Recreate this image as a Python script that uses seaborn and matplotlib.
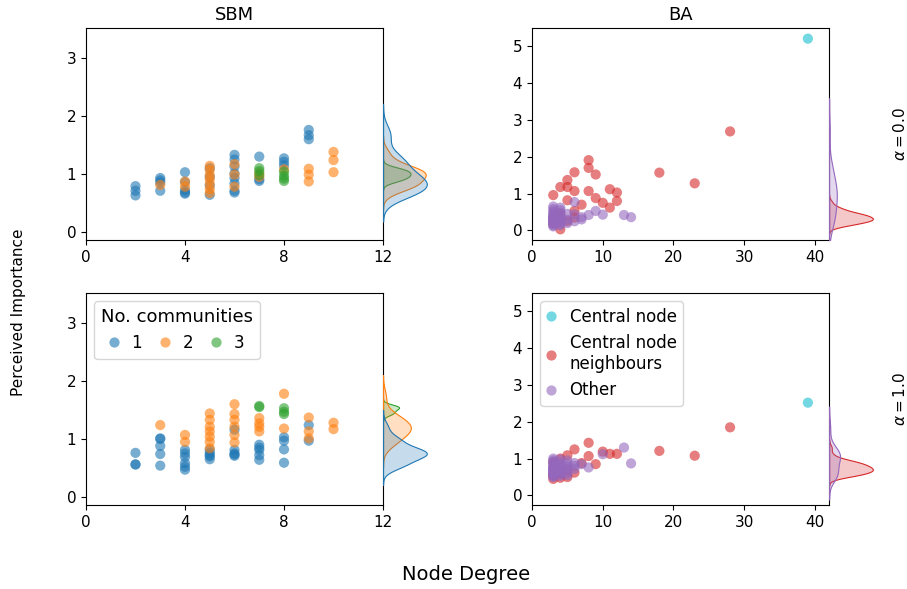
import matplotlib
matplotlib.use("Agg")
import matplotlib.pyplot as plt
import pandas as pd
import seaborn as sns

# ---------------- SBM networks ----------------
# alpha = 0.0
sbm0_c1_deg = [2, 2, 2, 3, 3, 3, 3, 4, 4, 4, 4, 4, 5, 5, 5, 5,
               6, 6, 6, 6, 6, 6, 6, 6, 7, 7, 7, 8, 8, 8, 9, 9, 9]
sbm0_c1_val = [0.79, 0.71, 0.63, 0.93, 0.89, 0.85, 0.71, 1.03, 0.86, 0.72, 0.66, 0.68,
               1.10, 0.95, 0.80, 0.64, 1.33, 1.25, 1.13, 1.01, 0.93, 0.84, 0.71, 0.68,
               1.30, 0.91, 0.88, 1.27, 1.21, 1.15, 1.76, 1.67, 1.60]
sbm0_c2_deg = [3, 4, 4, 5, 5, 5, 5, 5, 5, 5, 6, 6, 6, 7, 7, 8, 9, 9, 9, 10, 10, 10]
sbm0_c2_val = [0.81, 0.87, 0.78, 1.14, 1.07, 0.98, 0.91, 0.83, 0.74, 0.67, 1.17, 0.99,
               0.78, 1.01, 0.95, 1.08, 1.09, 0.99, 0.87, 1.38, 1.24, 1.03]
sbm0_c3_deg = [7, 7, 7, 8, 8, 8, 8]
sbm0_c3_val = [1.10, 1.05, 0.98, 1.04, 0.97, 0.92, 0.88]

# alpha = 1.0
sbm1_c1_deg = [2, 2, 2, 3, 3, 3, 3, 3, 4, 4, 4, 4, 4, 4, 5, 5, 5, 5, 5,
               6, 6, 6, 6, 6, 7, 7, 7, 7, 7, 8, 8, 8, 8, 9, 9]
sbm1_c1_val = [0.76, 0.56, 0.56, 1.01, 1.00, 0.88, 0.74, 0.54, 0.81, 0.69, 0.58, 0.52,
               0.47, 0.75, 0.81, 0.76, 0.72, 0.65, 0.70, 1.16, 0.81, 0.75, 0.71, 0.73,
               0.90, 0.85, 0.81, 0.72, 0.64, 1.03, 0.97, 0.82, 0.59, 1.24, 0.97]
sbm1_c2_deg = [3, 4, 4, 5, 5, 5, 5, 5, 5, 5, 6, 6, 6, 6, 6, 6,
               7, 7, 7, 7, 8, 8, 9, 9, 9, 10, 10]
sbm1_c2_val = [1.24, 1.07, 0.95, 1.44, 1.33, 1.21, 1.13, 1.04, 0.95, 0.84, 1.60, 1.43,
               1.33, 1.21, 1.07, 0.94, 1.36, 1.27, 1.21, 1.13, 1.78, 1.18, 1.37, 1.13,
               1.01, 1.28, 1.17]
sbm1_c3_deg = [7, 7, 8, 8, 8]
sbm1_c3_val = [1.57, 1.55, 1.53, 1.47, 1.43]

# ---------------- BA networks ----------------
# alpha = 0.0
ba0_central_deg = [39]
ba0_central_val = [5.21]
ba0_neigh_deg = [28, 18, 23, 8, 8, 9, 6, 5, 5, 4, 3, 6, 8, 9, 10, 11, 12, 12, 11,
                 5, 7, 6, 4, 3, 4, 5, 3, 4, 6]
ba0_neigh_val = [2.69, 1.57, 1.28, 1.91, 1.70, 1.52, 1.58, 1.37, 1.18, 1.18, 0.96,
                 1.07, 1.07, 0.88, 0.75, 1.12, 1.03, 0.80, 0.62, 0.82, 0.70, 0.53,
                 0.03, 0.35, 0.45, 0.25, 0.20, 0.30, 0.35]
ba0_other_deg = [14, 13, 10, 9, 8, 7, 6, 6, 7, 5, 5, 5, 6,
                 3, 3, 3, 3, 3, 3, 3, 3, 3, 3, 3, 3, 3, 3, 3, 3,
                 4, 4, 4, 4, 4, 4, 4, 4, 4, 4, 4, 4]
ba0_other_val = [0.36, 0.42, 0.43, 0.53, 0.42, 0.36, 0.77, 0.44, 0.30, 0.29, 0.45, 0.20, 0.25,
                 0.65, 0.58, 0.52, 0.47, 0.42, 0.38, 0.34, 0.30, 0.27, 0.24, 0.20, 0.17,
                 0.14, 0.11, 0.35, 0.28,
                 0.62, 0.55, 0.48, 0.40, 0.36, 0.31, 0.26, 0.22, 0.18, 0.14, 0.30, 0.28]

# alpha = 1.0
ba1_central_deg = [39]
ba1_central_val = [2.52]
ba1_neigh_deg = [28, 18, 23, 8, 10, 11, 12, 8, 6, 5, 9, 7, 4, 3,
                 3, 4, 5, 3, 4, 6, 5, 3]
ba1_neigh_val = [1.85, 1.21, 1.08, 1.43, 1.19, 1.13, 1.13, 1.07, 1.25, 1.09, 0.85, 0.88,
                 1.00, 0.90, 0.45, 0.48, 0.50, 0.55, 0.60, 0.62, 0.70, 0.75]
ba1_other_deg = [13, 14, 10, 7, 6, 8,
                 3, 3, 3, 3, 3, 3, 3, 3, 3, 3, 3, 3, 3, 3, 3, 3,
                 4, 4, 4, 4, 4, 4, 4, 4, 4, 4, 4,
                 5, 5, 5, 5, 5, 5, 6, 6]
ba1_other_val = [1.30, 0.87, 1.12, 0.85, 0.88, 0.76,
                 1.00, 0.95, 0.90, 0.85, 0.80, 0.75, 0.72, 0.68, 0.65, 0.62, 0.58,
                 0.55, 0.52, 0.50, 0.70, 0.60,
                 0.98, 0.90, 0.83, 0.77, 0.72, 0.67, 0.63, 0.58, 0.53, 0.70, 0.65,
                 0.95, 0.85, 0.78, 0.70, 0.62, 0.55, 0.80, 0.72]

SBM_LEVELS = ["1", "2", "3"]
BA_LEVELS = ["Central node", "Central node\nneighbours", "Other"]

SBM_PALETTE = dict(zip(SBM_LEVELS, ["tab:blue", "tab:orange", "tab:green"]))
BA_PALETTE = dict(zip(BA_LEVELS, ["tab:cyan", "tab:red", "tab:purple"]))
# colours of the density curves on the BA margins
BA_KDE_PALETTE = {"Central node\nneighbours": "tab:purple", "Other": "tab:red"}


def frame(levels, degs, vals):
    parts = []
    for lev, d, v in zip(levels, degs, vals):
        parts.append(pd.DataFrame({"degree": d, "importance": v, "group": lev}))
    return pd.concat(parts, ignore_index=True)


sbm0 = frame(SBM_LEVELS, [sbm0_c1_deg, sbm0_c2_deg, sbm0_c3_deg],
             [sbm0_c1_val, sbm0_c2_val, sbm0_c3_val])
sbm1 = frame(SBM_LEVELS, [sbm1_c1_deg, sbm1_c2_deg, sbm1_c3_deg],
             [sbm1_c1_val, sbm1_c2_val, sbm1_c3_val])
ba0 = frame(BA_LEVELS, [ba0_central_deg, ba0_neigh_deg, ba0_other_deg],
            [ba0_central_val, ba0_neigh_val, ba0_other_val])
ba1 = frame(BA_LEVELS, [ba1_central_deg, ba1_neigh_deg, ba1_other_deg],
            [ba1_central_val, ba1_neigh_val, ba1_other_val])

fig = plt.figure(figsize=(9.07, 5.89), dpi=100)

LEFTS = [0.0948, 0.5866]
BOTTOMS = [0.5925, 0.1426]
W, H, MW = 0.3275, 0.36, 0.0507

TICK_FS = 11


def panel(col, row, df, levels, palette, kde_palette, kde_levels, xlim, xticks,
          ylim, yticks, legend):
    ax = fig.add_axes([LEFTS[col], BOTTOMS[row], W, H])
    axm = fig.add_axes([LEFTS[col] + W, BOTTOMS[row], MW, H], sharey=ax)
    sns.scatterplot(data=df, x="degree", y="importance", hue="group",
                    hue_order=levels, palette=palette, s=54, alpha=0.6,
                    linewidth=0, ax=ax, legend=legend)
    sns.kdeplot(data=df[df["group"].isin(kde_levels)], y="importance",
                hue="group", hue_order=kde_levels, palette=kde_palette,
                fill=True, linewidth=0.8, alpha=0.25, legend=False, ax=axm)
    ax.set_xlim(*xlim)
    ax.set_xticks(xticks)
    ax.set_ylim(*ylim)
    ax.set_yticks(yticks)
    ax.set_xlabel("")
    ax.set_ylabel("")
    ax.tick_params(labelsize=TICK_FS)
    # fit the density axis to the tallest curve
    peak = 0.0
    for coll in axm.collections:
        for path in coll.get_paths():
            if len(path.vertices):
                peak = max(peak, path.vertices[:, 0].max())
    axm.set_xlim(0, peak * 1.05)
    axm.axis("off")
    return ax


ax_tl = panel(0, 0, sbm0, SBM_LEVELS, SBM_PALETTE, SBM_PALETTE, SBM_LEVELS,
              (0, 12), [0, 4, 8, 12], (-0.14, 3.52), [0, 1, 2, 3], False)
ax_bl = panel(0, 1, sbm1, SBM_LEVELS, SBM_PALETTE, SBM_PALETTE, SBM_LEVELS,
              (0, 12), [0, 4, 8, 12], (-0.14, 3.52), [0, 1, 2, 3], True)
ax_tr = panel(1, 0, ba0, BA_LEVELS, BA_PALETTE, BA_KDE_PALETTE, BA_LEVELS[1:],
              (0, 42), [0, 10, 20, 30, 40], (-0.26, 5.5), [0, 1, 2, 3, 4, 5], False)
ax_br = panel(1, 1, ba1, BA_LEVELS, BA_PALETTE, BA_KDE_PALETTE, BA_LEVELS[1:],
              (0, 42), [0, 10, 20, 30, 40], (-0.26, 5.5), [0, 1, 2, 3, 4, 5], True)

ax_tl.set_title("SBM", fontsize=13)
ax_tr.set_title("BA", fontsize=13)

sns.move_legend(ax_bl, "upper left", ncol=3, title="No. communities",
                fontsize=12, title_fontsize=13, handlelength=0.5,
                handletextpad=0.8, columnspacing=1.15, borderaxespad=0.5)
sns.move_legend(ax_br, "upper left", title=None, fontsize=12,
                handlelength=0.5, handletextpad=0.85, borderaxespad=0.5)
for a in (ax_bl, ax_br):
    for h in a.get_legend().legend_handles:
        h.set_alpha(0.6)

fig.text(0.992, BOTTOMS[0] + H / 2, r"$\alpha = 0.0$", rotation=90,
         ha="center", va="center", fontsize=11)
fig.text(0.992, BOTTOMS[1] + H / 2, r"$\alpha = 1.0$", rotation=90,
         ha="center", va="center", fontsize=11)

fig.text(0.514, 0.024, "Node Degree", ha="center", va="center", fontsize=14)
fig.text(0.02, 0.47, "Perceived Importance", ha="center", va="center",
         rotation=90, fontsize=11)

fig.savefig("out.png", dpi=100)
